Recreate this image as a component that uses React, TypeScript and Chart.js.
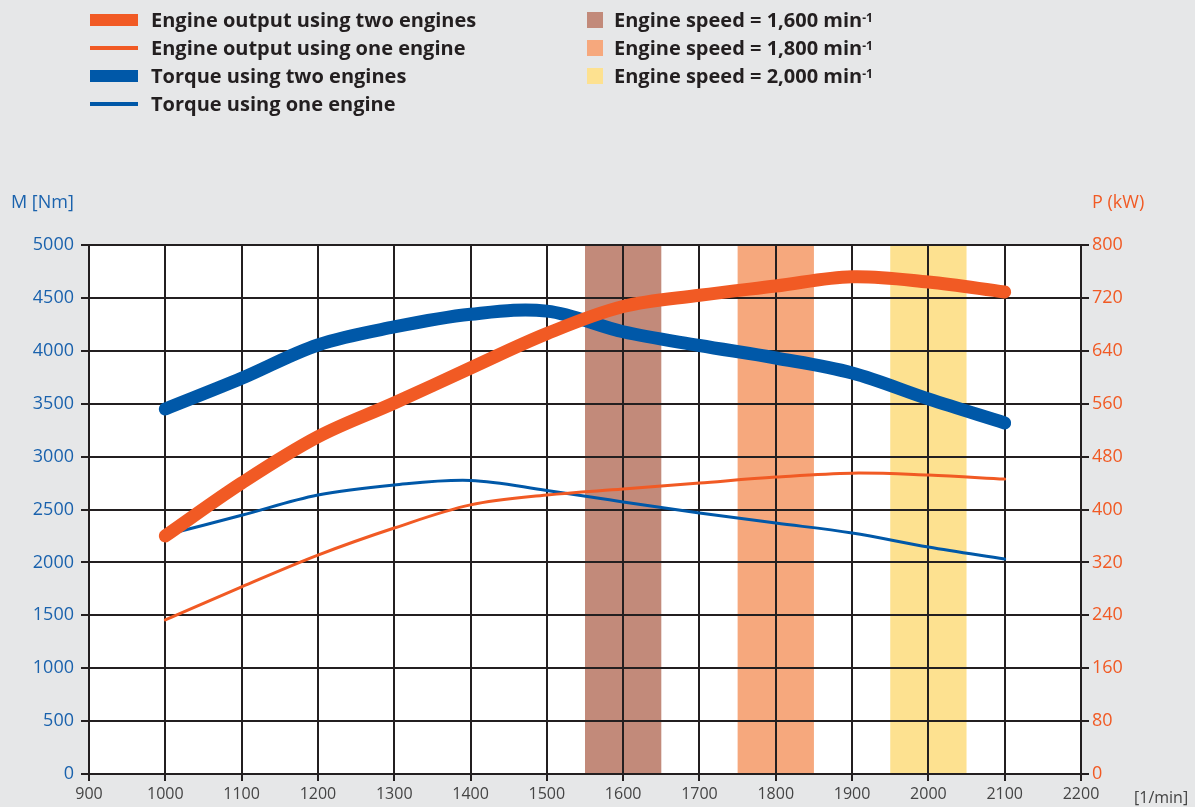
import React, { useEffect, useRef } from "react";
import { Chart, registerables } from "chart.js";

Chart.register(...registerables);

// ---- data ----
const rpm = [1000, 1100, 1200, 1300, 1400, 1500, 1600, 1700, 1800, 1900, 2000, 2100];
const outputTwoEngines = [360, 440, 510, 561, 614, 666, 707, 724, 738, 752, 744, 729]; // kW
const outputOneEngine = [233, 283, 331, 372, 407, 422, 431, 440, 449, 455, 452, 446]; // kW
const torqueTwoEngines = [3450, 3740, 4055, 4225, 4345, 4375, 4180, 4050, 3932, 3790, 3545, 3318]; // Nm
const torqueOneEngine = [2259, 2445, 2637, 2732, 2775, 2680, 2571, 2467, 2372, 2278, 2146, 2032]; // Nm

const bandStart = [1550, 1750, 1950];
const bandEnd = [1650, 1850, 2050];
const bandColors = ["#c28a7a", "#f6a87d", "#fde190"];
const bandLabels = ["1,600", "1,800", "2,000"];

const seriesLabels = [
  "Engine output using two engines",
  "Engine output using one engine",
  "Torque using two engines",
  "Torque using one engine",
];

const ORANGE = "#f15a24";
const BLUE = "#0058a8";
const FONT = "'Open Sans', Lato, sans-serif";

const toPts = (vals: number[]) => vals.map((v, i) => ({ x: rpm[i], y: v }));

const bandsPlugin = {
  id: "bands",
  beforeDraw(chart: any) {
    const { ctx, chartArea, scales } = chart;
    ctx.save();
    ctx.fillStyle = "#ffffff";
    ctx.fillRect(chartArea.left, chartArea.top, chartArea.right - chartArea.left, chartArea.bottom - chartArea.top);
    bandStart.forEach((s, i) => {
      const x1 = scales.x.getPixelForValue(s);
      const x2 = scales.x.getPixelForValue(bandEnd[i]);
      ctx.fillStyle = bandColors[i];
      ctx.fillRect(x1, chartArea.top, x2 - x1, chartArea.bottom - chartArea.top);
    });
    ctx.restore();
  },
};

const plain = (v: any) => String(v);

export default function App() {
  const ref = useRef<HTMLCanvasElement | null>(null);

  useEffect(() => {
    if (!ref.current) return;
    const lineCommon = {
      pointRadius: 0,
      tension: 0.35,
      borderCapStyle: "round" as const,
      borderJoinStyle: "round" as const,
      fill: false,
    };
    const chart = new Chart(ref.current, {
      type: "line",
      data: {
        datasets: [
          { ...lineCommon, label: seriesLabels[0], data: toPts(outputTwoEngines), borderColor: ORANGE, borderWidth: 13, yAxisID: "yP" },
          { ...lineCommon, label: seriesLabels[1], data: toPts(outputOneEngine), borderColor: ORANGE, borderWidth: 3, yAxisID: "yP" },
          { ...lineCommon, label: seriesLabels[2], data: toPts(torqueTwoEngines), borderColor: BLUE, borderWidth: 13, yAxisID: "yM" },
          { ...lineCommon, label: seriesLabels[3], data: toPts(torqueOneEngine), borderColor: BLUE, borderWidth: 3, yAxisID: "yM" },
        ],
      },
      options: {
        animation: false,
        responsive: false,
        maintainAspectRatio: false,
        layout: { padding: { top: 245, left: 0, right: 0, bottom: 0 } },
        plugins: { legend: { display: false }, tooltip: { enabled: false } },
        scales: {
          x: {
            type: "linear",
            min: 900,
            max: 2200,
            ticks: { stepSize: 100, color: "#444", font: { family: FONT, size: 16 }, padding: 4, maxRotation: 0, callback: plain },
            grid: { color: "#231f20", lineWidth: 2, tickLength: 7, tickColor: "#231f20" },
            border: { color: "#231f20", width: 2 },
            afterFit: (s: any) => { s.height = 33; },
          },
          yM: {
            type: "linear",
            position: "left",
            min: 0,
            max: 5000,
            ticks: { stepSize: 500, color: "#1a62ad", font: { family: FONT, size: 18 }, padding: 7, callback: plain },
            grid: { color: "#231f20", lineWidth: 2, tickLength: 8, tickColor: "#231f20" },
            border: { color: "#231f20", width: 2 },
            afterFit: (s: any) => { s.width = 89; },
          },
          yP: {
            type: "linear",
            position: "right",
            min: 0,
            max: 800,
            ticks: { stepSize: 80, color: ORANGE, font: { family: FONT, size: 18 }, padding: 3, callback: plain },
            grid: { drawOnChartArea: false, color: "#231f20", lineWidth: 2, tickLength: 8, tickColor: "#231f20" },
            border: { color: "#231f20", width: 2 },
            afterFit: (s: any) => { s.width = 114; },
          },
        },
      } as any,
      plugins: [bandsPlugin],
    });
    return () => chart.destroy();
  }, []);

  const legendText: React.CSSProperties = {
    position: "absolute",
    fontFamily: FONT,
    fontWeight: 700,
    fontSize: 20,
    color: "#231f20",
    whiteSpace: "nowrap",
    lineHeight: "24px",
  };

  const lineSwatches = [
    { color: ORANGE, h: 12 },
    { color: ORANGE, h: 4 },
    { color: BLUE, h: 12 },
    { color: BLUE, h: 4 },
  ];

  return (
    <div style={{ position: "fixed", left: 0, top: 0, width: 1195, height: 807, background: "#e6e7e8", overflow: "hidden" }}>
      <canvas ref={ref} width={1195} height={807} style={{ position: "absolute", left: 0, top: 0, width: 1195, height: 807 }} />
      {seriesLabels.map((t, i) => (
        <React.Fragment key={t}>
          <div style={{ position: "absolute", left: 90, top: 20 + i * 28 - lineSwatches[i].h / 2, width: 48, height: lineSwatches[i].h, background: lineSwatches[i].color }} />
          <div style={{ ...legendText, left: 151, top: 8 + i * 28 }}>{t}</div>
        </React.Fragment>
      ))}
      {bandLabels.map((b, i) => (
        <React.Fragment key={b}>
          <div style={{ position: "absolute", left: 587, top: 12 + i * 28, width: 16, height: 16, background: bandColors[i] }} />
          <div style={{ ...legendText, left: 614, top: 8 + i * 28 }}>
            Engine speed = {b} min<sup style={{ fontSize: 12, verticalAlign: "top", position: "relative", top: -2 }}>-1</sup>
          </div>
        </React.Fragment>
      ))}
      <div style={{ position: "absolute", left: 11, top: 189, fontFamily: FONT, fontSize: 18, color: "#1a62ad" }}>M [Nm]</div>
      <div style={{ position: "absolute", left: 1092, top: 189, fontFamily: FONT, fontSize: 18, color: ORANGE }}>P (kW)</div>
      <div style={{ position: "absolute", left: 1134, top: 786, fontFamily: FONT, fontSize: 16, color: "#444" }}>[1/min]</div>
    </div>
  );
}
